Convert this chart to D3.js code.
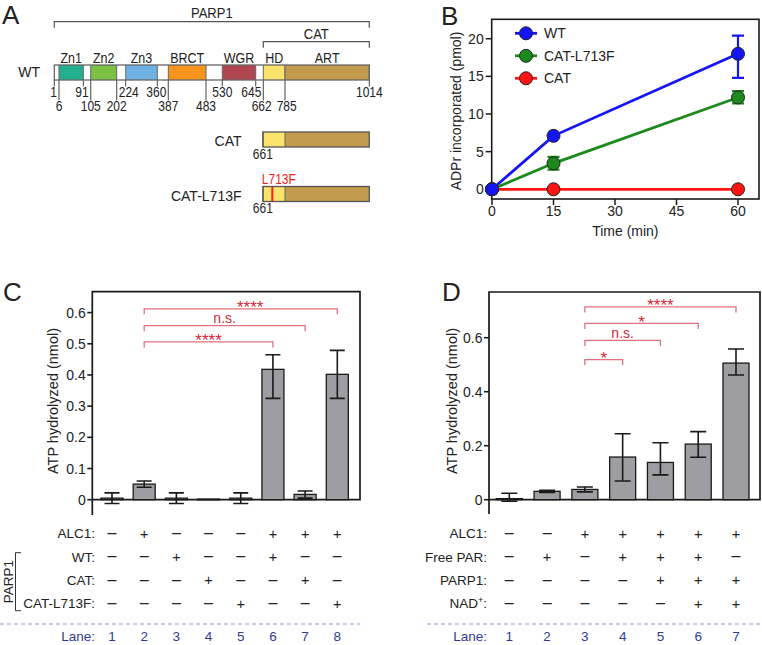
<!DOCTYPE html>
<html><head><meta charset="utf-8">
<script src="https://cdn.jsdelivr.net/npm/d3@7"></script>
<style>
body{margin:0;background:#fff}
svg{display:block}
text{font-family:"Liberation Sans",Arial,Helvetica,sans-serif;fill:#222}
</style>
</head><body>
<svg id="fig" width="762" height="645"></svg>
<script>
// ================= DATA =================
// Panel A: PARP1 domain architecture
const domainNames  = ["Zn1","Zn2","Zn3","BRCT","WGR","HD","ART"];
const domainStart  = [6,105,224,387,530,662,785];
const domainEnd    = [91,202,360,483,645,785,1014];
const domainColors = ["#22b08e","#7bc143","#6fb1e2","#f7941e","#b0464f","#f9e36d","#c29c4c"];
const upperTicks   = [1,91,224,360,530,645,1014];
const lowerTicks   = [6,105,202,387,483,662,785];
const constructNames = ["CAT","CAT-L713F"];
const constructStart = [661,661];
const constructMut   = [null,713];
const mutLabel = "L713F";
// schematic (not-to-scale) residue boundaries
const schemResidues = [1,6,91,105,202,224,360,387,483,530,645,662,785,1014];
const schemFrac     = [0,0.0149,0.0921,0.1156,0.1981,0.2267,0.3270,0.3619,0.4816,0.5333,0.6394,0.6635,0.7324,1];

// Panel B: ADPr incorporated (pmol) vs time (min)
const timePoints   = [0,15,60];
const seriesNames  = ["WT","CAT-L713F","CAT"];
const seriesColors = ["#1414f5","#1b8a1b","#ff1414"];
const wtMean   = [0,7.1,18.0];
const wtLow    = [0,7.1,14.8];
const wtHigh   = [0,7.1,20.4];
const l713Mean = [0,3.45,12.2];
const l713Low  = [0,2.6,11.4];
const l713High = [0,4.3,13.05];
const catMean  = [0,0,0];
const catLow   = [0,0,0];
const catHigh  = [0,0,0];
const bTicksX = [0,15,30,45,60];
const bTicksY = [0,5,10,15,20];

// Panel C: ATP hydrolyzed (nmol)
const lanesC = [1,2,3,4,5,6,7,8];
const meanC  = [0.005,0.05,0.005,0.002,0.005,0.418,0.017,0.402];
const lowC   = [-0.012,0.04,-0.012,0.002,-0.012,0.325,0.005,0.325];
const highC  = [0.022,0.06,0.022,0.002,0.022,0.465,0.028,0.479];
const ticksC = [0,0.1,0.2,0.3,0.4,0.5,0.6];
const sigFromC = [2,2,2];
const sigToC   = [6,7,8];
const sigYC    = [0.506,0.558,0.612];
const sigLabC  = ["****","n.s.","****"];
const rowLabelsC = ["ALC1:","WT:","CAT:","CAT-L713F:"];
const alc1C  = [0,1,0,0,0,1,1,1];
const wtC    = [0,0,1,0,0,1,0,0];
const catC   = [0,0,0,1,0,0,1,0];
const l713C  = [0,0,0,0,1,0,0,1];

// Panel D
const lanesD = [1,2,3,4,5,6,7];
const meanD  = [0.004,0.031,0.038,0.158,0.138,0.206,0.506];
const lowD   = [-0.006,0.027,0.029,0.069,0.092,0.157,0.462];
const highD  = [0.024,0.035,0.047,0.244,0.211,0.252,0.558];
const ticksD = [0,0.2,0.4,0.6];
const sigFromD = [3,3,3,3];
const sigToD   = [4,5,6,7];
const sigYD    = [0.519,0.590,0.653,0.714];
const sigLabD  = ["*","n.s.","*","****"];
const rowLabelsD = ["ALC1:","Free PAR:","PARP1:","NAD+:"];
const alc1D  = [0,0,1,1,1,1,1];
const parD   = [0,1,0,1,1,1,0];
const parp1D = [0,0,0,0,1,1,1];
const nadD   = [0,0,0,0,0,1,1];

// ================= DRAW =================
const svg = d3.select("#fig");
const INK = "#1a1a1a";
const SIGLINE = "#e2707c", SIGTXT = "#cf2a3c";

function panelLetter(t,x,y){
  svg.append("text").attr("x",x).attr("y",y).attr("font-size",26).text(t);
}
panelLetter("A",2,24); panelLetter("B",441,25); panelLetter("C",3,301); panelLetter("D",442,301);

// ---------- Panel A ----------
(function(){
  const x0 = 54.3, x1 = 369.3;
  const sx = d3.scaleLinear().domain(schemResidues).range(schemFrac.map(f=>x0+f*(x1-x0)));
  const g = svg.append("g");
  function tall(x,y,str,size,anchor,sy){
    return g.append("text").attr("transform",`translate(${x},${y}) scale(1,${sy||1.2})`)
      .attr("text-anchor",anchor||"middle").attr("font-size",size).text(str);
  }
  function bracket(a,b,y,label,ly){
    g.append("path").attr("d",`M${sx(a)},${y+6}V${y}H${sx(b)}V${y+6}`)
      .attr("fill","none").attr("stroke","#555").attr("stroke-width",1.2);
    tall((sx(a)+sx(b))/2, ly, label, 13, "middle", 1.1);
  }
  bracket(1,1014,21.7,"PARP1",18.3);
  bracket(662,1014,41.7,"CAT",39.3);

  const wtY = 65, h = 15;
  upperTicks.forEach(r=>{
    g.append("line").attr("x1",sx(r)).attr("x2",sx(r)).attr("y1",wtY+h).attr("y2",86.5)
      .attr("stroke","#555").attr("stroke-width",1.1);
  });
  lowerTicks.forEach(r=>{
    g.append("line").attr("x1",sx(r)).attr("x2",sx(r)).attr("y1",wtY+h).attr("y2",100.5)
      .attr("stroke","#555").attr("stroke-width",1.1);
  });
  const fs = 12;
  const wOf = r => String(r).length*0.556*fs;
  // upper-row numbers: keep clear of the longer lines passing beside them
  upperTicks.forEach(r=>{
    const w = wOf(r);
    let cx = sx(r);
    lowerTicks.forEach(q=>{
      const lx = sx(q);
      if(lx > cx - w/2 - 2 && lx < cx + w/2 + 2){
        cx = lx > cx ? lx - 2 - w/2 : lx + 2 + w/2;
      }
    });
    tall(cx, 96.7, r, fs);
  });
  // lower-row numbers: spread apart neighbours that would touch
  const lowPos = lowerTicks.map(r=>sx(r));
  for(let i=1;i<lowPos.length;i++){
    const gap = (lowPos[i]-wOf(lowerTicks[i])/2) - (lowPos[i-1]+wOf(lowerTicks[i-1])/2);
    if(gap < 5){ const d=(5-gap)/2; lowPos[i-1]-=d; lowPos[i]+=d; }
  }
  lowerTicks.forEach((r,i)=>{ tall(lowPos[i], 111, r, fs); });
  // WT bar
  g.append("rect").attr("x",sx(1)).attr("y",wtY).attr("width",sx(1014)-sx(1)).attr("height",h)
    .attr("fill","#fff");
  domainNames.forEach((n,i)=>{
    g.append("rect").attr("x",sx(domainStart[i])).attr("y",wtY)
      .attr("width",sx(domainEnd[i])-sx(domainStart[i])).attr("height",h)
      .attr("fill",domainColors[i]);
    [domainStart[i],domainEnd[i]].forEach(r=>{
      g.append("line").attr("x1",sx(r)).attr("x2",sx(r))
        .attr("y1",wtY).attr("y2",wtY+h).attr("stroke","#666").attr("stroke-width",1);
    });
    tall((sx(domainStart[i])+sx(domainEnd[i]))/2, 63.3, n, 12.5);
  });
  g.append("rect").attr("x",sx(1)).attr("y",wtY).attr("width",sx(1014)-sx(1)).attr("height",h)
    .attr("fill","none").attr("stroke","#666").attr("stroke-width",1.3);
  g.append("text").attr("x",40).attr("y",76.7).attr("text-anchor","end").attr("font-size",14).text("WT");

  const cY = [132, 186.5];
  constructNames.forEach((n,i)=>{
    const y = cY[i];
    const s = constructStart[i];
    g.append("rect").attr("x",sx(s)).attr("y",y).attr("width",sx(1014)-sx(s)).attr("height",h)
      .attr("fill","#fff");
    [5,6].forEach(k=>{
      g.append("rect").attr("x",sx(domainStart[k])).attr("y",y)
        .attr("width",sx(domainEnd[k])-sx(domainStart[k])).attr("height",h)
        .attr("fill",domainColors[k]);
      g.append("line").attr("x1",sx(domainStart[k])).attr("x2",sx(domainStart[k]))
        .attr("y1",y).attr("y2",y+h).attr("stroke","#666");
    });
    if(constructMut[i]!==null){
      g.append("line").attr("x1",sx(constructMut[i])).attr("x2",sx(constructMut[i]))
        .attr("y1",y).attr("y2",y+h).attr("stroke","#ff1a1a").attr("stroke-width",2);
      tall(sx(s)-1, y-2.5, mutLabel, 12, "start", 1.15).style("fill","#ff1a1a");
    }
    g.append("rect").attr("x",sx(s)).attr("y",y).attr("width",sx(1014)-sx(s)).attr("height",h)
      .attr("fill","none").attr("stroke","#555").attr("stroke-width",1.3);
    tall(sx(s), y+26.5, s, fs);
    g.append("text").attr("x",241.5).attr("y",y+14).attr("text-anchor","end")
      .attr("font-size",14).text(n);
  });
})();

// ---------- Panel B ----------
(function(){
  const L=491.7, R=759, T=19.3, B=199;
  const x = d3.scaleLinear().domain([0,65.12]).range([492,R]);
  const y = d3.scaleLinear().domain([-1.29,22.58]).range([B,T]);
  const g = svg.append("g");
  g.append("rect").attr("x",L).attr("y",T).attr("width",R-L).attr("height",B-T)
    .attr("fill","none").attr("stroke",INK).attr("stroke-width",1.6);
  bTicksY.forEach(v=>{
    g.append("line").attr("x1",L-6).attr("x2",L).attr("y1",y(v)).attr("y2",y(v)).attr("stroke",INK).attr("stroke-width",1.5);
    g.append("text").attr("x",L-8).attr("y",y(v)+5).attr("text-anchor","end").attr("font-size",14).text(v);
  });
  bTicksX.forEach(v=>{
    g.append("line").attr("x1",x(v)).attr("x2",x(v)).attr("y1",B).attr("y2",B+6).attr("stroke",INK).attr("stroke-width",1.5);
    g.append("text").attr("x",x(v)).attr("y",B+16.5).attr("text-anchor","middle").attr("font-size",14).text(v);
  });
  g.append("text").attr("x",(L+R)/2).attr("y",236).attr("text-anchor","middle").attr("font-size",14).text("Time (min)");
  g.append("text").attr("transform",`translate(461,111) rotate(-90)`).attr("text-anchor","middle")
    .attr("font-size",14).text("ADPr incorporated (pmol)");

  const series = [
    {mean:catMean, low:catLow, high:catHigh, c:seriesColors[2]},
    {mean:l713Mean, low:l713Low, high:l713High, c:seriesColors[1]},
    {mean:wtMean, low:wtLow, high:wtHigh, c:seriesColors[0]}
  ];
  const line = d3.line().x((d,i)=>x(timePoints[i])).y(d=>y(d));
  series.forEach(s=>{
    g.append("path").attr("d",line(s.mean)).attr("fill","none").attr("stroke",s.c).attr("stroke-width",2.8);
  });
  series.forEach(s=>{
    timePoints.forEach((t,i)=>{
      if(s.high[i]-s.low[i] > 0.3){
        const cx = x(t);
        g.append("path").attr("d",`M${cx-6},${y(s.high[i])}H${cx+6}M${cx},${y(s.high[i])}V${y(s.low[i])}M${cx-6},${y(s.low[i])}H${cx+6}`)
          .attr("stroke",s.c).attr("stroke-width",2.2).attr("fill","none");
      }
    });
    timePoints.forEach((t,i)=>{
      g.append("circle").attr("cx",x(t)).attr("cy",y(s.mean[i])).attr("r",6.5)
        .attr("fill",s.c).attr("stroke","#222").attr("stroke-width",1);
    });
  });
  seriesNames.forEach((n,i)=>{
    const ly = 33.3 + i*22.5;
    g.append("line").attr("x1",515).attr("x2",537).attr("y1",ly).attr("y2",ly).attr("stroke",seriesColors[i]).attr("stroke-width",2.8);
    g.append("circle").attr("cx",526).attr("cy",ly).attr("r",6.5).attr("fill",seriesColors[i]).attr("stroke","#222").attr("stroke-width",1);
    g.append("text").attr("x",544).attr("y",ly+5).attr("font-size",14).text(n);
  });
})();

// ---------- Bar panels ----------
function boxesOverlap(a,b){
  return a.x < b.x+b.width && b.x < a.x+a.width && a.y < b.y+b.height && b.y < a.y+a.height;
}
function barPanel(o){
  const g = svg.append("g");
  const y = d3.scaleLinear().domain(o.yDomain).range([o.B,o.T]);
  const x = d3.scalePoint().domain(o.lanes).range(o.xRange);
  g.append("path").attr("d",`M${o.L},${o.axisEnd}V${o.T}H${o.R}V${y(0)}H${o.L}`)
    .attr("fill","none").attr("stroke",INK).attr("stroke-width",1.7);
  o.ticks.forEach(v=>{
    g.append("line").attr("x1",o.L-5).attr("x2",o.L).attr("y1",y(v)).attr("y2",y(v)).attr("stroke",INK).attr("stroke-width",1.6);
    g.append("text").attr("x",o.L-6.5).attr("y",y(v)+5).attr("text-anchor","end").attr("font-size",14).text(d3.format("~g")(v));
  });
  g.append("text").attr("transform",`translate(${o.yLabX},401) rotate(-90)`).attr("text-anchor","middle")
    .attr("font-size",14.5).text("ATP hydrolyzed (nmol)");
  o.lanes.forEach((l,i)=>{
    const cx = x(l);
    g.append("rect").attr("x",cx-o.bw/2).attr("y",y(o.mean[i])).attr("width",o.bw)
      .attr("height",Math.max(0.8,y(0)-y(o.mean[i]))).attr("fill","#9e9ea2").attr("stroke",INK).attr("stroke-width",1.3);
  });
  o.lanes.forEach((l,i)=>{
    const cx = x(l);
    if(o.high[i]-o.low[i] > 0.004){
      g.append("path").attr("d",`M${cx-o.cap},${y(o.high[i])}H${cx+o.cap}M${cx},${y(o.high[i])}V${y(o.low[i])}M${cx-o.cap},${y(o.low[i])}H${cx+o.cap}`)
        .attr("stroke",INK).attr("stroke-width",1.6).attr("fill","none");
    }
  });
  const placed = [];
  o.sigFrom.forEach((f,i)=>{
    const yy = y(o.sigY[i]);
    const xa = x(f), xb = x(o.sigTo[i]);
    g.append("path").attr("d",`M${xa},${yy+5.5}V${yy}H${xb}V${yy+5.5}`).attr("fill","none")
      .attr("stroke",SIGLINE).attr("stroke-width",1.3);
    const lab = o.sigLab[i];
    const isStar = lab.indexOf("*")===0;
    const t = g.append("text").attr("x",(xa+xb)/2).attr("y",isStar? yy+4.5 : yy-2.5).attr("text-anchor","middle")
      .attr("font-size",isStar?17:14).style("fill",SIGTXT).text(lab);
    let bb = t.node().getBBox();
    placed.forEach(p=>{
      if(boxesOverlap(bb,p)){
        const shift = (p.x+p.width) - bb.x + 1;
        t.attr("x", +t.attr("x") + shift);
        bb = t.node().getBBox();
      }
    });
    placed.push(bb);
  });
  const rowY = d3.scaleLinear().domain([0,3]).range([533.5,603.5]);
  o.rows.forEach((vals,r)=>{
    const t = g.append("text").attr("x",o.labelEnd).attr("y",rowY(r)+4.8).attr("text-anchor","end").attr("font-size",13.5);
    const lab = o.rowLabels[r];
    if(lab==="NAD+:"){
      t.append("tspan").text("NAD");
      t.append("tspan").attr("font-size",9).attr("dy",-5).text("+");
      t.append("tspan").attr("dy",5).text(":");
    } else t.text(lab);
    vals.forEach((v,i)=>{
      g.append("text").attr("x",x(o.lanes[i])).attr("y",rowY(r)+(v?5:4.6)).attr("text-anchor","middle")
        .attr("font-size",v?14.5:16).text(v?"+":"\u2013");
    });
  });
  g.append("line").attr("x1",o.dashX[0]).attr("x2",o.dashX[1]).attr("y1",624).attr("y2",624)
    .attr("stroke","#8f8fe0").attr("stroke-width",1.2).attr("stroke-dasharray","4,3");
  g.append("text").attr("x",o.labelEnd).attr("y",640.5).attr("text-anchor","end").attr("font-size",13.5)
    .style("fill","#2f3a96").text("Lane:");
  o.lanes.forEach(l=>{
    g.append("text").attr("x",x(l)).attr("y",640.5).attr("text-anchor","middle").attr("font-size",13.5)
      .style("fill","#2f3a96").text(l);
  });
  return g;
}

barPanel({lanes:lanesC, mean:meanC, low:lowC, high:highC, ticks:ticksC,
  yDomain:[0,0.667], B:499.7, T:291.7, L:92.3, R:360, axisEnd:515, xRange:[112,337.3],
  bw:22, cap:7.5, yLabX:57.5,
  sigFrom:sigFromC, sigTo:sigToC, sigY:sigYC, sigLab:sigLabC,
  rows:[alc1C,wtC,catC,l713C], rowLabels:rowLabelsC, labelEnd:95, dashX:[0,360]});

barPanel({lanes:lanesD, mean:meanD, low:lowD, high:highD, ticks:ticksD,
  yDomain:[0,0.7693], B:499.7, T:292, L:489, R:760, axisEnd:514, xRange:[509.3,736],
  bw:26, cap:8, yLabX:457,
  sigFrom:sigFromD, sigTo:sigToD, sigY:sigYD, sigLab:sigLabD,
  rows:[alc1D,parD,parp1D,nadD], rowLabels:rowLabelsD, labelEnd:487, dashX:[427,762]});

svg.append("path").attr("d","M21,552.7H15.5V610.7H21").attr("fill","none").attr("stroke","#333").attr("stroke-width",1);
svg.append("text").attr("transform","translate(12.5,581.7) rotate(-90)").attr("text-anchor","middle")
  .attr("font-size",13.5).text("PARP1");
</script>
</body></html>
